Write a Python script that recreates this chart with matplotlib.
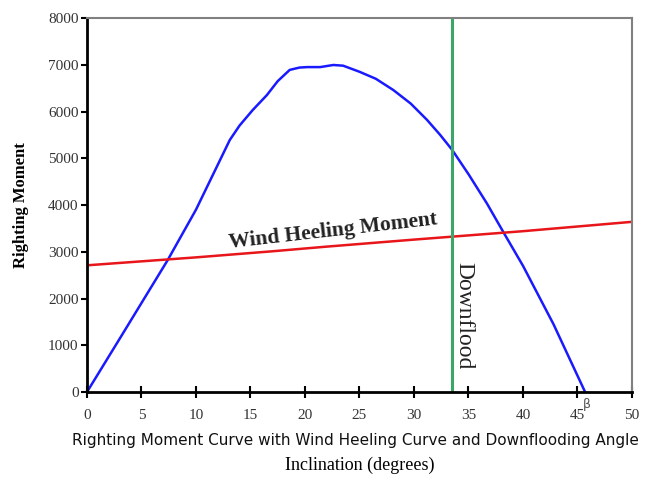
import numpy as np
import matplotlib.pyplot as plt

# righting moment curve (blue)
rm_angle = [0, 3, 7.4, 10, 13.1, 14.0, 15.2, 16.5, 17.5, 18.6, 19.5, 20.2, 21.4, 22.6, 23.5,
            25, 26.5, 28.1, 29.7, 31.2, 32.4, 33.5, 35, 36.7, 38.2, 40, 42.8, 45.7]
rm_value = [0, 1140, 2820, 3900, 5390, 5700, 6030, 6350, 6650, 6890, 6940, 6950, 6950, 6995, 6980,
            6850, 6700, 6460, 6170, 5820, 5500, 5180, 4660, 4030, 3420, 2700, 1450, 0]

# wind heeling moment (red)
wh_angle = [0, 10, 17, 22, 30, 40, 50]
wh_value = [2710, 2880, 3010, 3110, 3260, 3440, 3640]

downflood_angle = 33.5

fig = plt.figure(figsize=(6.52, 4.8), dpi=100)
ax = fig.add_axes([0.1334, 0.1833, 0.8359, 0.7792])

ax.plot(rm_angle, rm_value, color='#1a1aff', lw=1.8)
ax.plot(wh_angle, wh_value, color='#e8161a', lw=1.8)
ax.axvline(downflood_angle, color='#3aa66a', lw=2.2)

ax.set_xlim(0, 50)
ax.set_ylim(0, 8000)
ax.set_xticks(range(0, 51, 5))
ax.set_yticks(range(0, 8001, 1000))

serif = ['Liberation Serif', 'DejaVu Serif']
for lab in ax.get_xticklabels() + ax.get_yticklabels():
    lab.set_family(serif)
    lab.set_fontsize(11)
    lab.set_color('#333333')
ax.tick_params(axis='x', direction='inout', length=8, width=1.5, pad=8)
ax.tick_params(axis='y', direction='out', length=4, width=1.5, pad=2)

for s in ['left', 'bottom']:
    ax.spines[s].set_linewidth(2.0)
    ax.spines[s].set_color('black')
for s in ['top', 'right']:
    ax.spines[s].set_linewidth(1.5)
    ax.spines[s].set_color('#808080')

ax.set_ylabel('Righting Moment', family=serif, fontsize=12, fontweight='bold', labelpad=14)
ax.set_xlabel('Inclination (degrees)', family=serif, fontsize=13, labelpad=25)

ax.text(22.6, 3440, 'Wind Heeling Moment', family=serif, fontsize=15.5, fontweight='bold',
        color='#222222', rotation=6.5, ha='center', va='center')
ax.text(34.6, 1630, 'Downflood', family=serif, fontsize=17,
        color='#222222', rotation=-90, ha='center', va='center')
ax.text(45.9, -270, 'β', fontsize=9, color='#555555', ha='center', va='center')

fig.text(0.545, 0.083, 'Righting Moment Curve with Wind Heeling Curve and Downflooding Angle',
         ha='center', va='center', fontsize=11, color='#111111', family='DejaVu Sans')

fig.savefig('out.png', dpi=100)
